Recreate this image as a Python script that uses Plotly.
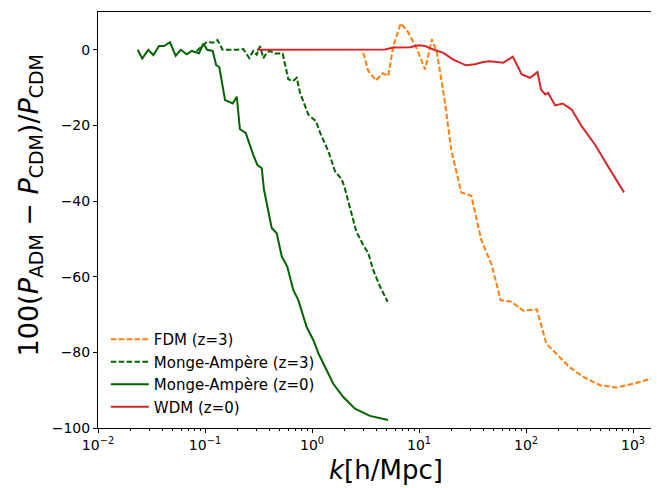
import plotly.graph_objects as go

# ---- data ----
fdm_k = [3.01, 3.36, 3.96, 4.58, 5.16, 5.75, 6.75, 7.94, 9.53, 11.4, 13.2, 14.7, 17.3, 20.0,
         24.8, 30.8, 38.2, 47.8, 57.9, 73.1, 94.4, 126, 155, 255, 343, 492, 705, 1007, 1549]
fdm_v = [-0.8, -5.6, -8.1, -6.2, -6.9, 1, 7, 4.6, 0.3, -5.2, 2.8, -0.8, -13.1, -26.4,
         -37.7, -38.6, -50.3, -56.9, -66.2, -66.6, -69, -68.6, -77.7, -83.9, -86.5, -88.7, -89.3, -88.3, -86.8]

ma3_k = [0.0836, 0.0931, 0.104, 0.120, 0.131, 0.146, 0.198, 0.228, 0.245, 0.259, 0.282, 0.304,
         0.327, 0.351, 0.377, 0.405, 0.451, 0.532, 0.601, 0.661, 0.720, 0.773, 0.923, 1.09,
         1.19, 1.42, 1.64, 1.90, 2.02, 2.33, 2.59, 3.01, 3.36, 3.73, 4.32, 5.09]
ma3_v = [-0.3, 1, 2.1, 1.9, 2.6, 0, 0, 0.2, -1.3, -2.2, -0.3, -1.3,
         1, -2.2, -0.8, -0.3, -1, -1, -7.8, -8.3, -7.4, -11.4, -17.1, -18.9,
         -21.9, -26.8, -32.1, -34.3, -36.5, -43.2, -48, -51.6, -53.8, -58.2, -62.6, -66.6]

ma0_k = [0.0235, 0.0259, 0.0295, 0.0329, 0.0372, 0.0414, 0.0471, 0.0532, 0.0593, 0.0675,
         0.0752, 0.0879, 0.0964, 0.105, 0.118, 0.127, 0.136, 0.154, 0.182, 0.198, 0.212,
         0.240, 0.282, 0.308, 0.339, 0.356, 0.420, 0.468, 0.521, 0.587, 0.668, 0.745,
         0.891, 1.03, 1.15, 1.32, 1.58, 1.96, 2.52, 3.48, 5.13]
ma0_v = [0, -2.3, 0, -1.4, 1, 1, 2, -1.6, 0, -1.2,
         -0.3, -0.9, 1.6, 0, -0.3, -4, -4.6, -13.3, -14.2, -12.4, -21,
         -22, -27.7, -30.4, -31.3, -37, -47.1, -48.5, -54.6, -57.3, -63.5, -66.2,
         -73.3, -76.8, -80.3, -83.9, -88.3, -91.8, -94.9, -96.8, -97.9]

wdm_k = [0.306, 0.773, 1.83, 3.01, 4.81, 5.75, 8.24, 9.84, 11.4, 13.6, 16.9, 20.9, 27.5,
         33.3, 39.9, 45.4, 51.3, 61.4, 75.2, 91.2, 109, 128, 138, 151, 161, 187, 220,
         267, 331, 442, 610, 824]
wdm_v = [0, 0, 0, 0.1, 0.1, 0.6, 0.7, 1.2, 1, 0.1, -0.8, -2.6, -4.1,
         -3.8, -3.2, -3, -3.2, -3.4, -1.8, -6.5, -7.4, -5.9, -10.5, -11.8, -11.4, -14.7, -14.2,
         -15.8, -20.2, -25.1, -31.7, -37.7]

x_tickvals = [0.01, 0.1, 1, 10, 100, 1000]
x_ticktext = ["10<sup>−2</sup>", "10<sup>−1</sup>", "10<sup>0</sup>",
              "10<sup>1</sup>", "10<sup>2</sup>", "10<sup>3</sup>"]
y_tickvals = [0, -20, -40, -60, -80, -100]
y_ticktext = ["0", "−20", "−40", "−60", "−80", "−100"]

x_title = "<i>k</i>[h/Mpc]"
y_title = "100(<i>P</i><sub>ADM</sub> − <i>P</i><sub>CDM</sub>)/<i>P</i><sub>CDM</sub>"

ORANGE = "#ff7f0e"
DKGREEN = "#006400"
RED = "#d62728"
DASH = "5.5px,2.4px"
FONT = "DejaVu Sans"

fig = go.Figure()
fig.add_trace(go.Scatter(x=fdm_k, y=fdm_v, mode="lines", name="FDM (z=3)", legendgroup="a",
                         line=dict(color=ORANGE, width=2, dash=DASH)))
fig.add_trace(go.Scatter(x=ma3_k, y=ma3_v, mode="lines", name="Monge-Ampère (z=3)", legendgroup="b",
                         line=dict(color=DKGREEN, width=2, dash=DASH)))
fig.add_trace(go.Scatter(x=ma0_k, y=ma0_v, mode="lines", name="Monge-Ampère (z=0)", legendgroup="c",
                         line=dict(color=DKGREEN, width=2)))
fig.add_trace(go.Scatter(x=wdm_k, y=wdm_v, mode="lines", name="WDM (z=0)", legendgroup="d",
                         line=dict(color=RED, width=2)))

minor_vals = [m * 10 ** e for e in range(-2, 4) for m in range(2, 10)]

# The page body has an 8px default margin, so the figure is drawn 8px in and down.
fig.update_layout(
    width=651, height=480,
    margin=dict(l=90, r=2, t=4, b=60, autoexpand=False),
    paper_bgcolor="white", plot_bgcolor="white",
    font=dict(family=FONT, size=14, color="black"),
    showlegend=True,
    legend=dict(x=0.014, y=0.012, xanchor="left", yanchor="bottom",
                bgcolor="rgba(0,0,0,0)", borderwidth=0,
                font=dict(size=15), itemwidth=38,
                traceorder="grouped", tracegroupgap=0),
    xaxis=dict(type="log", range=[-2, 3.224], automargin=False,
               tickmode="array", tickvals=x_tickvals, ticktext=x_ticktext,
               ticks="outside", ticklen=4, tickwidth=1, tickcolor="black",
               minor=dict(tickmode="array", tickvals=minor_vals, ticks="outside",
                          ticklen=2, tickwidth=0.8, tickcolor="black", showgrid=False),
               showline=True, linecolor="black", linewidth=1, mirror=True,
               showgrid=False, zeroline=False,
               tickfont=dict(size=14)),
    yaxis=dict(range=[-100, 10], automargin=False,
               tickmode="array", tickvals=y_tickvals, ticktext=y_ticktext,
               ticks="outside", ticklen=4, tickwidth=1, tickcolor="black",
               showline=True, linecolor="black", linewidth=1, mirror=False,
               showgrid=False, zeroline=False,
               tickfont=dict(size=14)),
    annotations=[
        dict(text=x_title, xref="paper", yref="paper", x=0.516, y=0, yshift=-42,
             xanchor="center", yanchor="middle", showarrow=False, font=dict(size=26)),
        dict(text=y_title, xref="paper", yref="paper", x=0, y=0.535, xshift=-68,
             xanchor="center", yanchor="middle", textangle=-90, showarrow=False,
             font=dict(size=27)),
    ],
)

fig.write_html("out.html")
